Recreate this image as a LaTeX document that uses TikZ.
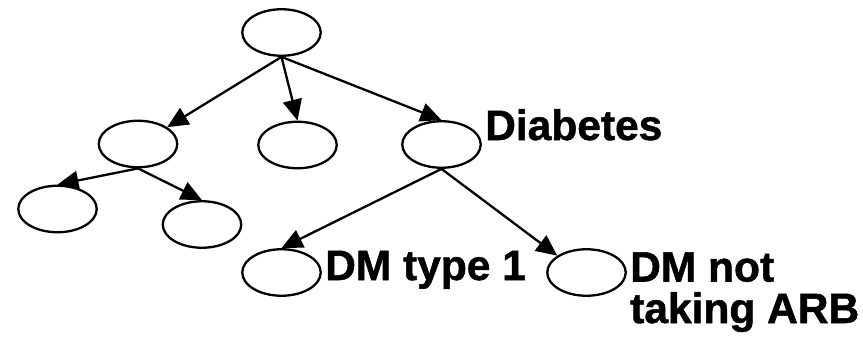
\documentclass[tikz,border=0pt]{standalone}
\usepackage{fontspec}
\setmainfont{Liberation Sans}[BoldFeatures={FakeBold=1.2}]
\usetikzlibrary{shapes.geometric,arrows.meta}
\begin{document}
\begin{tikzpicture}[x=1pt,y=-1pt,
  ov/.style={draw, ellipse, line width=2.3pt, minimum width=78.5pt, minimum height=46.5pt, inner sep=0pt},
  edge/.style={line width=2.3pt, -{Triangle[length=21pt,width=19pt]}},
  lbl/.style={anchor=base west, inner sep=0pt, font=\fontsize{42.5}{50}\selectfont\bfseries}]
\useasboundingbox (0,0) rectangle (863,338);
\node[ov] (root) at (281.5,32.5) {};
\node[ov] (L) at (138,144) {};
\node[ov] (M) at (297.5,145) {};
\node[ov] (D) at (441.5,144.5) {};
\node[ov] (LL) at (57.5,209) {};
\node[ov] (LR) at (202,224.5) {};
\node[ov] (T1) at (281.5,272.5) {};
\node[ov] (NA) at (586.5,272.5) {};
\draw[edge] (root.south) -- (L.30);
\draw[edge] (root.south) -- (M.north);
\draw[edge] (root.south) -- (D.north);
\draw[edge] (L.south) -- (LL.north);
\draw[edge] (L.south) -- (LR.north);
\draw[edge] (D.south) -- (T1.north);
\draw[edge] (D.south) -- (NA.150);
\node[lbl] (tD) at (485,140) {Diabetes};
\node[lbl] (tT1) at (325,280) {DM type 1};
\node[lbl] (tNA1) at (630,281.5) {DM not};
\node[lbl] (tNA2) at (630,323) {taking ARB};
\end{tikzpicture}
\end{document}
